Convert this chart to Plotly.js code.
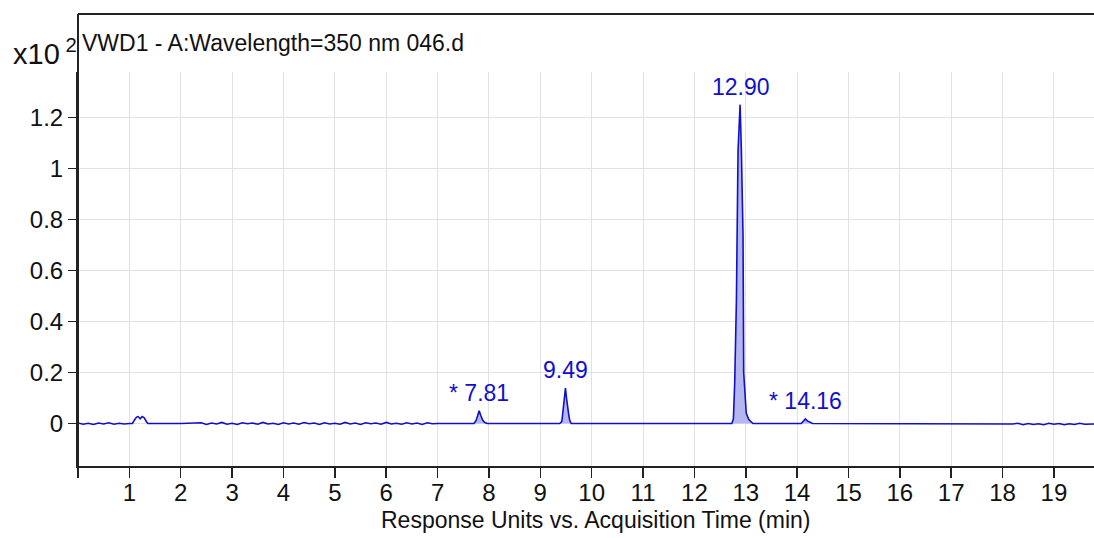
<!DOCTYPE html>
<html>
<head>
<meta charset="utf-8">
<script src="https://cdn.plot.ly/plotly-3.0.1.min.js"></script>
<style>html,body{margin:0;padding:0;background:#fff;}#chart{width:1094px;height:538px;}</style>
</head>
<body>
<div id="chart"></div>
<script>
// Acquisition time (min) and response (x10^2 units)
const timeMin = [
  // baseline noise 0-1 min
  0.00,0.10,0.20,0.30,0.40,0.50,0.60,0.70,0.80,0.90,1.00,
  // small bump ~1.2 min
  1.06,1.10,1.14,1.17,1.21,1.25,1.29,1.33,1.36,
  // flat / noise 2.0-7.0 min
  2.00,
  2.40,2.50,2.60,2.70,2.80,2.90,3.00,3.10,3.20,3.30,
  3.40,3.50,3.60,3.70,3.80,3.90,4.00,4.10,4.20,4.30,
  4.40,4.50,4.60,4.70,4.80,4.90,5.00,5.10,5.20,5.30,
  5.40,5.50,5.60,5.70,5.80,5.90,6.00,6.10,6.20,6.30,
  6.40,6.50,6.60,6.70,6.80,6.90,7.00,
  // peak 7.81
  7.71,7.75,7.78,7.81,7.84,7.88,7.92,7.97,
  // peak 9.49
  9.38,9.42,9.44,9.47,9.49,9.51,9.53,9.55,9.57,9.60,
  // main peak 12.90
  12.73,12.76,12.785,12.818,12.85,12.89,12.915,12.947,12.96,12.98,13.01,13.06,13.14,
  // peak 14.16
  14.08,14.12,14.16,14.20,14.25,14.30,
  // noise 18.2-19.78 min
  18.20,18.30,18.40,18.50,18.60,18.70,18.80,18.90,19.00,19.10,
  19.20,19.30,19.40,19.50,19.60,19.70,19.78
];
const response = [
  0.002,-0.003,0.001,-0.004,0.002,-0.002,0.003,-0.003,0.001,-0.002,0.000,
  0.000,0.014,0.025,0.027,0.018,0.027,0.022,0.008,0.000,
  0.000,
  0.003,-0.004,0.002,-0.002,0.004,-0.003,0.001,-0.004,0.003,-0.001,
  0.002,-0.003,0.004,-0.002,0.001,-0.004,0.003,-0.002,0.002,-0.003,
  0.004,-0.001,0.002,-0.004,0.003,-0.002,0.001,-0.003,0.004,-0.002,
  0.002,-0.004,0.003,-0.001,0.002,-0.003,0.004,-0.002,0.001,-0.003,
  0.003,-0.002,0.002,-0.004,0.003,-0.001,0.000,
  0.000,0.012,0.030,0.050,0.032,0.012,0.004,0.000,
  0.000,0.008,0.045,0.100,0.139,0.100,0.078,0.040,0.015,0.000,
  0.000,0.020,0.160,0.480,1.070,1.250,1.070,0.740,0.200,0.130,0.040,0.015,0.000,
  0.000,0.008,0.018,0.010,0.004,0.000,
  -0.002,0.001,-0.005,0.000,-0.004,-0.001,-0.005,0.001,-0.003,0.000,
  -0.005,-0.001,-0.004,0.001,-0.003,-0.001,-0.002
];

// integrated peaks
const peakRT = [7.81, 9.49, 12.90, 14.16];
const peakLabel = ["* 7.81", "9.49", "12.90", "* 14.16"];
const peakStart = [7.71, 9.38, 12.73, 14.08];
const peakEnd = [7.97, 9.60, 13.14, 14.30];

// axis ticks
const xTickVals = [0,1,2,3,4,5,6,7,8,9,10,11,12,13,14,15,16,17,18,19];
const xTickText = ["","1","2","3","4","5","6","7","8","9","10","11","12","13","14","15","16","17","18","19"];
const yTickVals = [0,0.2,0.4,0.6,0.8,1.0,1.2];
const yTickText = ["0","0.2","0.4","0.6","0.8","1","1.2"];

const FONT = "Liberation Sans, Arial, sans-serif";
const BLUE = "#1010cc";

const traces = [];
const annotations = [];
peakRT.forEach((rt, i) => {
  const xs = [], ys = [];
  timeMin.forEach((t, j) => {
    if (t >= peakStart[i] && t <= peakEnd[i]) { xs.push(t); ys.push(response[j]); }
  });
  traces.push({
    x: xs, y: ys, type: "scatter", mode: "lines",
    line: {width: 0, color: "rgba(0,0,0,0)"},
    fill: "tozeroy", fillcolor: "#b6b6ee",
    hoverinfo: "skip", showlegend: false
  });
  annotations.push({
    x: rt, y: Math.max.apply(null, ys), xref: "x", yref: "y",
    text: peakLabel[i], showarrow: false, xanchor: "center", yanchor: "bottom",
    yshift: 3, font: {family: FONT, size: 23, color: BLUE}
  });
});
traces.push({
  x: timeMin, y: response, type: "scatter", mode: "lines",
  line: {width: 1.6, color: BLUE}, showlegend: false
});

annotations.push({
  xref: "paper", yref: "paper", x: 0.002, y: 1.074, xanchor: "left", yanchor: "middle",
  text: "VWD1 - A:Wavelength=350 nm 046.d", showarrow: false,
  font: {family: FONT, size: 23, color: "#111"}
});
annotations.push({
  xref: "paper", yref: "paper", x: 0.001, y: 1.05, xanchor: "right", yanchor: "middle",
  text: "x10<sup> 2</sup>", showarrow: false,
  font: {family: FONT, size: 29, color: "#111"}
});
annotations.push({
  xref: "paper", yref: "paper", x: 0.51, y: -0.137, xanchor: "center", yanchor: "middle",
  text: "Response Units vs. Acquisition Time (min)", showarrow: false,
  font: {family: FONT, size: 23, color: "#111"}
});

const FRAME_TOP = 1.1472;
const layout = {
  width: 1094, height: 538,
  margin: {l: 78, r: 0, t: 72, b: 72},
  paper_bgcolor: "#fff", plot_bgcolor: "#fff",
  font: {family: FONT, color: "#111"},
  showlegend: false,
  hovermode: false,
  xaxis: {
    range: [0, 19.78], tickmode: "array", tickvals: xTickVals, ticktext: xTickText,
    showgrid: true, gridcolor: "#e2e2e2", gridwidth: 1, zeroline: false,
    showline: true, linecolor: "#222", linewidth: 2,
    ticks: "outside", ticklen: 10, tickwidth: 1.5, tickcolor: "#222",
    ticklabelstandoff: -6,
    tickfont: {family: FONT, size: 24, color: "#111"}
  },
  yaxis: {
    range: [-0.1667, 1.378], tickmode: "array", tickvals: yTickVals, ticktext: yTickText,
    showgrid: true, gridcolor: "#e2e2e2", gridwidth: 1, zeroline: false,
    showline: true, linecolor: "#222", linewidth: 2,
    ticks: "outside", ticklen: 8, tickwidth: 1.5, tickcolor: "#222",
    tickfont: {family: FONT, size: 24, color: "#111"}
  },
  shapes: [
    {type: "line", xref: "paper", yref: "paper", x0: 0, x1: 0, y0: 0, y1: FRAME_TOP, line: {color: "#222", width: 2}},
    {type: "line", xref: "paper", yref: "paper", x0: 0, x1: 1, y0: FRAME_TOP, y1: FRAME_TOP, line: {color: "#222", width: 2}}
  ],
  annotations: annotations
};

Plotly.newPlot("chart", traces, layout, {staticPlot: true, displayModeBar: false});
</script>
</body>
</html>
